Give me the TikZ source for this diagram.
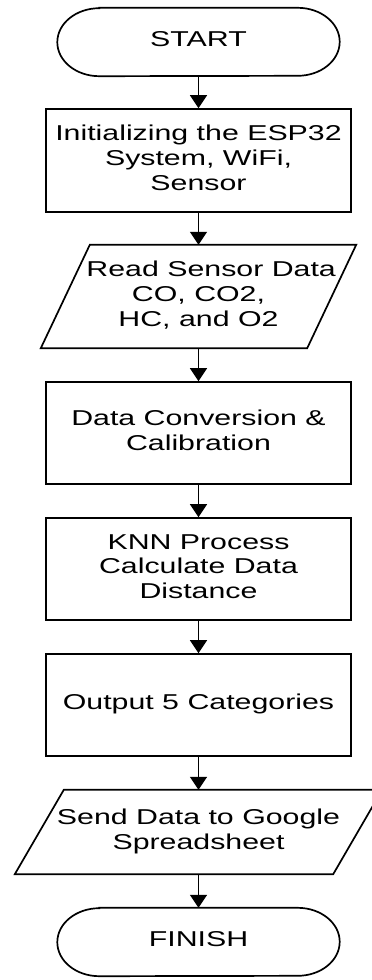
\documentclass[tikz,border=0pt]{standalone}
\usepackage{fontspec}
\setmainfont{Liberation Sans}
\usepackage{graphicx}
\usetikzlibrary{arrows.meta}
\newcommand{\wtxt}[1]{\scalebox{1.41}[1]{\begin{tabular}{@{}c@{}}#1\end{tabular}}}
\begin{document}
\begin{tikzpicture}[x=1pt,y=-1pt,
  lbl/.style={inner sep=0pt, font=\fontsize{21.5}{24.7}\selectfont, text=black},
  box/.style={lbl, draw, line width=1.7pt, minimum width=305pt, minimum height=102pt},
  term/.style={lbl, minimum width=282pt, minimum height=68pt},
  para/.style={lbl, minimum height=103pt},
  outl/.style={line width=1.7pt, line join=miter},
  arr/.style={line width=1.7pt, -{Triangle[width=17pt,length=13pt]}}
]
\path[use as bounding box] (0,0) rectangle (372,980);
\clip (0,0) rectangle (372,980);

\node[term] (start) at (198.5,42) {\wtxt{START}};
\node[box, minimum height=103pt] (init) at (198.5,160.5) {\wtxt{Initializing the ESP32\\System, WiFi,\\Sensor}};
\node[para, minimum width=315pt] (read) at (198.5,296.5) {\wtxt{\hspace*{9pt}Read Sensor Data\hspace*{-9pt}\\CO, CO2,\\HC, and O2}};
\node[box] (conv) at (198.5,433) {\wtxt{Data Conversion \&\\Calibration}};
\node[box] (knn) at (198.5,569) {\wtxt{KNN Process\\Calculate Data\\Distance}};
\node[box] (out) at (198.5,705) {\wtxt{Output 5 Categories}};
\node[para, minimum width=367pt, minimum height=84pt] (send) at (198.5,832) {\wtxt{Send Data to Google\\Spreadsheet}};
\node[term] (finish) at (198.5,942) {\wtxt{FINISH}};

% terminals
\foreach \n in {start,finish}{
  \draw[outl] ([xshift=42pt]\n.north west) -- ([xshift=-42pt]\n.north east)
    arc[start angle=90, end angle=-90, x radius=42pt, y radius=34pt]
    -- ([xshift=42pt]\n.south west)
    arc[start angle=270, end angle=90, x radius=42pt, y radius=34pt] -- cycle;
}
% parallelograms
\draw[outl] ([xshift=49pt]read.north west) -- (read.north east)
  -- ([xshift=-49pt]read.south east) -- (read.south west) -- cycle;
\draw[outl] ([xshift=49pt]send.north west) -- (send.north east)
  -- ([xshift=-49pt]send.south east) -- (send.south west) -- cycle;

% connectors
\draw[arr] (start.south) -- (init.north);
\draw[arr] (init.south) -- (read.north);
\draw[arr] (read.south) -- (conv.north);
\draw[arr] (conv.south) -- (knn.north);
\draw[arr] (knn.south) -- (out.north);
\draw[arr] (out.south) -- (send.north);
\draw[arr] (send.south) -- (finish.north);
\end{tikzpicture}
\end{document}
